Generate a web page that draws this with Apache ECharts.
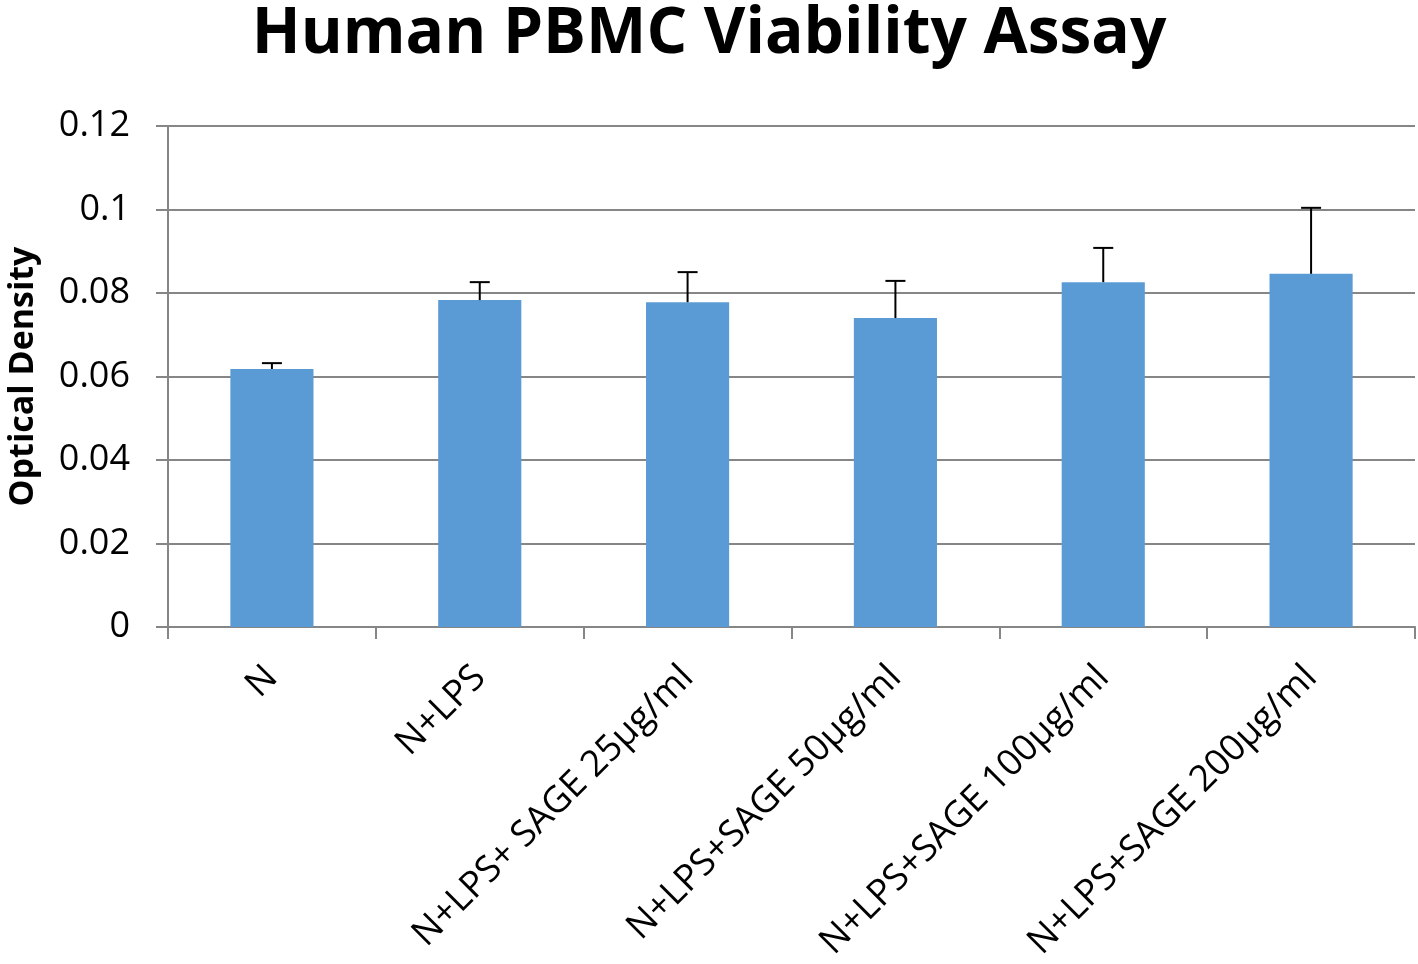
<!DOCTYPE html>
<html>
<head>
<meta charset="utf-8">
<script src="https://cdn.jsdelivr.net/npm/echarts@6/dist/echarts.min.js"></script>
<style>html,body{margin:0;padding:0;background:#fff}#c{width:1418px;height:964px}</style>
</head>
<body>
<div id="c"></div>
<script>
const categories = ['N', 'N+LPS', 'N+LPS+ SAGE 25µg/ml', 'N+LPS+SAGE 50µg/ml', 'N+LPS+SAGE 100µg/ml', 'N+LPS+SAGE 200µg/ml'];
const means = [0.0618, 0.0783, 0.0778, 0.0740, 0.0826, 0.0846];
const errors = [0.0014, 0.0043, 0.0072, 0.0089, 0.0082, 0.0158];
const yTicks = [0, 0.02, 0.04, 0.06, 0.08, 0.1, 0.12];

const FONT = '"Open Sans", "Liberation Sans", sans-serif';
const chart = echarts.init(document.getElementById('c'), null, {renderer: 'canvas'});
const errData = means.map((m, i) => [i, m, m + errors[i]]);
chart.setOption({
  animation: false,
  backgroundColor: '#fff',
  title: {
    text: 'Human PBMC Viability Assay',
    left: 'center', top: -2,
    textStyle: {fontFamily: FONT, fontWeight: 'bold', fontSize: 64, color: '#000'}
  },
  grid: {left: 168, right: 3, top: 126, bottom: 337, containLabel: false, outerBoundsMode: 'none'},
  xAxis: {
    type: 'category',
    data: categories,
    axisLine: {lineStyle: {color: '#868686', width: 2}},
    axisTick: {show: true, length: 12, lineStyle: {color: '#868686', width: 2}},
    axisLabel: {rotate: 45, fontFamily: FONT, fontSize: 36.5, color: '#000', margin: 45, interval: 0}
  },
  yAxis: {
    type: 'value',
    min: 0, max: 0.12, interval: 0.02,
    name: 'Optical Density',
    nameLocation: 'middle',
    nameGap: 128,
    nameTextStyle: {fontFamily: FONT, fontWeight: 'bold', fontSize: 34, color: '#000'},
    axisLine: {show: true, lineStyle: {color: '#868686', width: 2}},
    axisTick: {show: true, length: 12, lineStyle: {color: '#868686', width: 2}},
    splitLine: {lineStyle: {color: '#868686', width: 2}},
    axisLabel: {
      fontFamily: FONT, fontSize: 36, color: '#000', margin: 38,
      formatter: v => { const t = yTicks.find(x => Math.abs(x - v) < 1e-9); return String(t !== undefined ? t : v); }
    }
  },
  series: [
    {
      type: 'bar',
      data: means,
      barWidth: '40%',
      itemStyle: {color: '#5b9bd5'},
      z: 2
    },
    {
      type: 'custom',
      data: errData,
      z: 3,
      renderItem: function (params, api) {
        const x = api.value(0);
        const lo = api.coord([x, api.value(1)]);
        const hi = api.coord([x, api.value(2)]);
        const cap = 10;
        return {
          type: 'group',
          children: [
            {type: 'line', shape: {x1: lo[0], y1: lo[1], x2: hi[0], y2: hi[1]}, style: {stroke: '#000', lineWidth: 2}},
            {type: 'line', shape: {x1: hi[0] - cap, y1: hi[1], x2: hi[0] + cap, y2: hi[1]}, style: {stroke: '#000', lineWidth: 2}}
          ]
        };
      }
    }
  ]
});
</script>
</body>
</html>
